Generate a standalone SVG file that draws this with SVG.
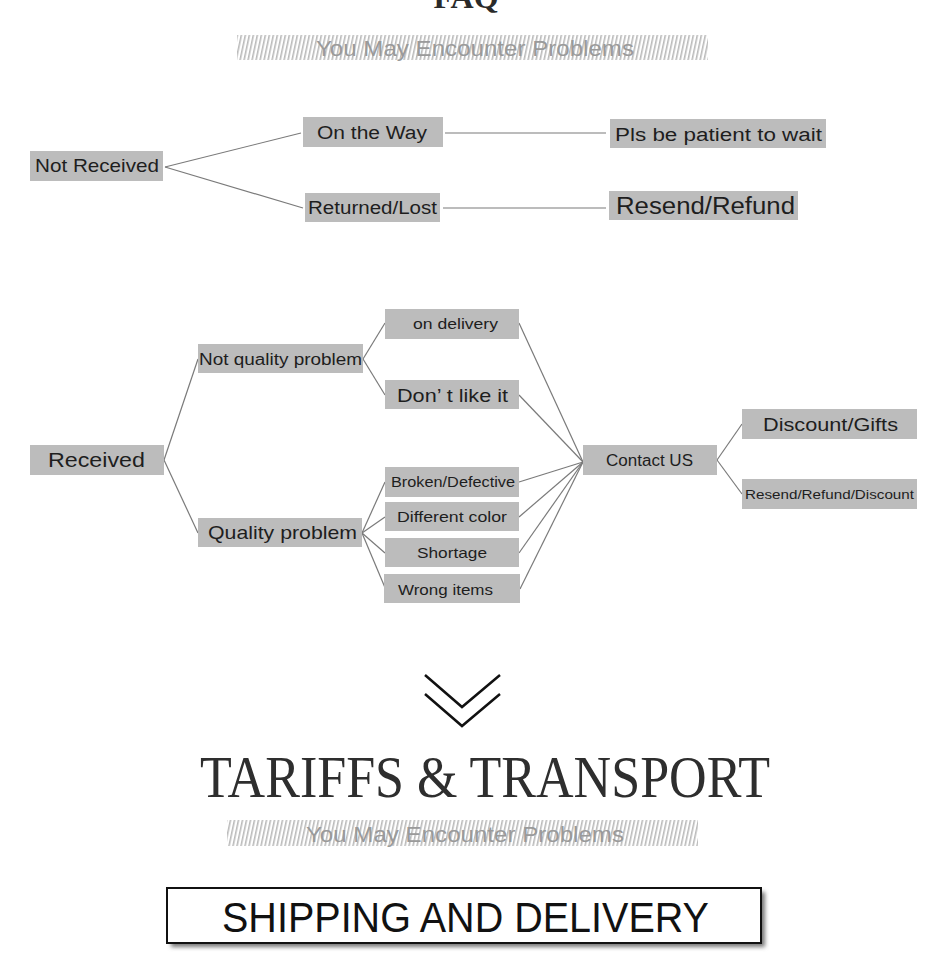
<svg xmlns="http://www.w3.org/2000/svg" width="930" height="963" viewBox="0 0 930 963">
<defs>
<pattern id="stripes" width="4" height="30" patternUnits="userSpaceOnUse" patternTransform="skewX(-12)">
<rect x="0" y="0" width="1.6" height="30" fill="#b9b9b9"/>
</pattern>
<filter id="shadow" x="-5%" y="-30%" width="110%" height="160%">
<feGaussianBlur stdDeviation="2"/>
</filter>
</defs>
<style>
.box{fill:#bcbcbc}
.lbl{font-family:"Liberation Sans",Arial,sans-serif;fill:#1e1e1e}
.sub{font-family:"Liberation Sans",Arial,sans-serif;fill:#9a9a9a;font-size:22px}
.conn line{stroke:#7a7a7a;stroke-width:1.2}
</style>
<rect width="930" height="963" fill="#ffffff"/>

<g id="faq-title">
<text x="466" y="8" text-anchor="middle" font-family="'Liberation Serif',serif" font-weight="bold" font-size="32" fill="#2a2a2a">FAQ</text>
</g>
<g id="subtitle-1">
<rect x="237" y="35" width="471" height="25" fill="url(#stripes)"/>
<text class="sub" x="316" y="56" textLength="318" lengthAdjust="spacingAndGlyphs">You May Encounter Problems</text>
</g>

<g class="conn" id="connectors">
<line x1="165" y1="167" x2="301" y2="133"/>
<line x1="165" y1="167" x2="303" y2="208"/>
<line x1="445" y1="133" x2="606" y2="133"/>
<line x1="443" y1="208" x2="606" y2="208"/>

<line x1="164" y1="460" x2="198" y2="359"/>
<line x1="164" y1="460" x2="198" y2="533"/>
<line x1="363" y1="359" x2="385" y2="323"/>
<line x1="363" y1="359" x2="385" y2="395"/>
<line x1="362" y1="533" x2="385" y2="482"/>
<line x1="362" y1="533" x2="385" y2="517"/>
<line x1="362" y1="533" x2="385" y2="553"/>
<line x1="362" y1="533" x2="386" y2="590"/>
<line x1="519" y1="323" x2="583" y2="462"/>
<line x1="519" y1="395" x2="583" y2="462"/>
<line x1="519" y1="482" x2="583" y2="462"/>
<line x1="519" y1="517" x2="583" y2="462"/>
<line x1="519" y1="553" x2="583" y2="462"/>
<line x1="520" y1="589" x2="583" y2="462"/>
<line x1="717" y1="460" x2="742" y2="424"/>
<line x1="717" y1="460" x2="742" y2="494"/>
</g>

<g id="not-received"><rect class="box" x="30" y="151" width="133" height="30"/><text class="lbl" x="35" y="172" font-size="19" textLength="124" lengthAdjust="spacingAndGlyphs">Not Received</text></g>
<g id="on-the-way"><rect class="box" x="303" y="117" width="140" height="30"/><text class="lbl" x="317" y="139" font-size="18" textLength="110" lengthAdjust="spacingAndGlyphs">On the Way</text></g>
<g id="returned-lost"><rect class="box" x="305" y="193" width="135" height="29"/><text class="lbl" x="308" y="214" font-size="18" textLength="129" lengthAdjust="spacingAndGlyphs">Returned/Lost</text></g>
<g id="pls-wait"><rect class="box" x="610" y="119" width="216" height="29"/><text class="lbl" x="615" y="141" font-size="18" textLength="207" lengthAdjust="spacingAndGlyphs">Pls be patient to wait</text></g>
<g id="resend-refund"><rect class="box" x="609" y="191" width="189" height="29"/><text class="lbl" x="616" y="214" font-size="23" textLength="179" lengthAdjust="spacingAndGlyphs">Resend/Refund</text></g>

<g id="received"><rect class="box" x="30" y="445" width="134" height="30"/><text class="lbl" x="48" y="467" font-size="21" textLength="97" lengthAdjust="spacingAndGlyphs">Received</text></g>
<g id="not-quality"><rect class="box" x="198" y="344" width="165" height="29"/><text class="lbl" x="199" y="365" font-size="16" textLength="163" lengthAdjust="spacingAndGlyphs">Not quality problem</text></g>
<g id="quality"><rect class="box" x="198" y="518" width="164" height="29"/><text class="lbl" x="208" y="539" font-size="19" textLength="149" lengthAdjust="spacingAndGlyphs">Quality problem</text></g>
<g id="on-delivery"><rect class="box" x="385" y="309" width="134" height="30"/><text class="lbl" x="413" y="329" font-size="15" textLength="85" lengthAdjust="spacingAndGlyphs">on delivery</text></g>
<g id="dont-like"><rect class="box" x="385" y="380" width="134" height="29"/><text class="lbl" x="397" y="402" font-size="19" textLength="111" lengthAdjust="spacingAndGlyphs">Don’ t like it</text></g>
<g id="broken"><rect class="box" x="385" y="467" width="134" height="30"/><text class="lbl" x="391" y="487" font-size="14" textLength="124" lengthAdjust="spacingAndGlyphs">Broken/Defective</text></g>
<g id="different-color"><rect class="box" x="385" y="502" width="134" height="29"/><text class="lbl" x="397" y="522" font-size="15" textLength="110" lengthAdjust="spacingAndGlyphs">Different color</text></g>
<g id="shortage"><rect class="box" x="385" y="538" width="134" height="29"/><text class="lbl" x="417" y="558" font-size="15" textLength="70" lengthAdjust="spacingAndGlyphs">Shortage</text></g>
<g id="wrong-items"><rect class="box" x="384" y="574" width="136" height="29"/><text class="lbl" x="398" y="595" font-size="15" textLength="95" lengthAdjust="spacingAndGlyphs">Wrong items</text></g>
<g id="contact-us"><rect class="box" x="583" y="445" width="134" height="30"/><text class="lbl" x="606" y="466" font-size="16" textLength="87" lengthAdjust="spacingAndGlyphs">Contact US</text></g>
<g id="discount-gifts"><rect class="box" x="742" y="409" width="175" height="30"/><text class="lbl" x="763" y="431" font-size="19" textLength="135" lengthAdjust="spacingAndGlyphs">Discount/Gifts</text></g>
<g id="resend-refund-discount"><rect class="box" x="742" y="479" width="175" height="30"/><text class="lbl" x="745" y="499" font-size="13" textLength="169" lengthAdjust="spacingAndGlyphs">Resend/Refund/Discount</text></g>

<g id="chevrons" fill="none" stroke="#111" stroke-width="2.5">
<polyline points="425,675 462,707 500,675"/>
<polyline points="425,694 462,726 500,694"/>
</g>

<g id="tariffs-title">
<text x="200" y="797" font-family="'Liberation Serif',serif" font-size="60" fill="#2e2e2e" textLength="570" lengthAdjust="spacingAndGlyphs">TARIFFS &amp; TRANSPORT</text>
</g>
<g id="subtitle-2">
<rect x="227" y="820" width="471" height="26" fill="url(#stripes)"/>
<text class="sub" x="306" y="842" textLength="318" lengthAdjust="spacingAndGlyphs">You May Encounter Problems</text>
</g>

<g id="shipping">
<rect x="171" y="892" width="594" height="55" fill="#777" filter="url(#shadow)"/>
<rect x="167" y="888" width="594" height="55" fill="#fff" stroke="#111" stroke-width="2"/>
<text x="222" y="932" font-family="'Liberation Sans',Arial,sans-serif" font-size="43" fill="#111" textLength="487" lengthAdjust="spacingAndGlyphs">SHIPPING AND DELIVERY</text>
</g>
</svg>
